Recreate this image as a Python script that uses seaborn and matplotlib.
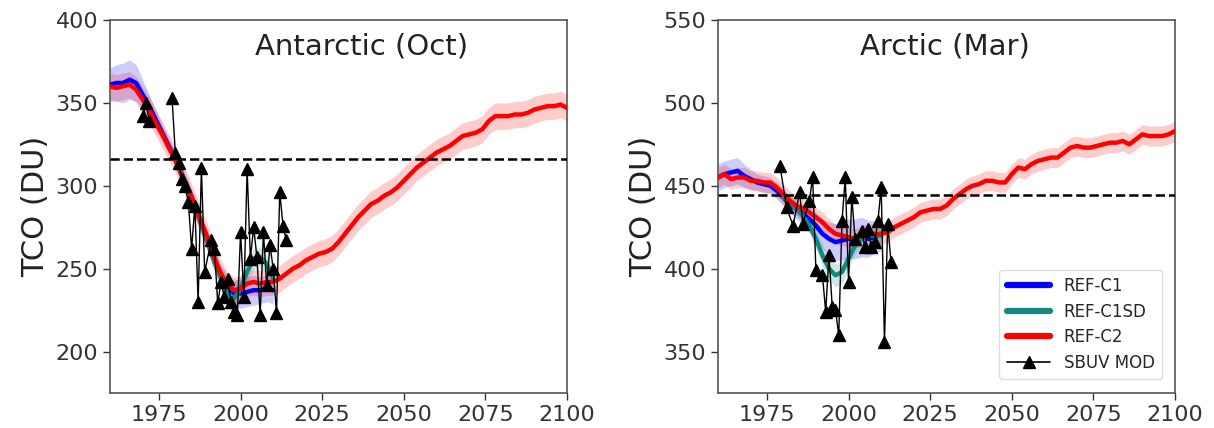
import numpy as np
import pandas as pd
import matplotlib
matplotlib.use("Agg")
import matplotlib.pyplot as plt
import seaborn as sns
from matplotlib.lines import Line2D

# ---------------- data ----------------
years_c2 = np.arange(1960, 2101, 2)
years_c1 = np.arange(1960, 2011, 2)
years_sd = np.arange(1980, 2011, 2)

# Antarctic (Oct)
ant_c2 = [360, 359, 360, 361, 358, 352, 346, 338, 331, 323,
          316, 306, 298, 288, 278, 268, 256, 247, 240, 237,
          238, 241, 242, 241, 242, 242, 244, 247, 250, 252,
          255, 257, 259, 260, 262, 266, 271, 276, 281, 285,
          289, 291, 294, 296, 299, 303, 307, 311, 314, 317,
          320, 322, 324, 327, 330, 331, 332, 334, 339, 342,
          342, 342, 343, 343, 344, 346, 347, 348, 348, 349,
          347]
ant_c1 = [361, 362, 362, 364, 362, 355, 348, 340, 332, 324,
          316, 307, 298, 288, 277, 267, 256, 246, 239, 235,
          235, 236, 237, 237, 238, 237]
ant_sd = [317, 307, 297, 287, 276, 265, 254, 244, 235, 232,
          238, 248, 256, 257, 253, 244]
ant_c2_spread = 8
ant_c1_spread = [10, 11, 12, 12, 11, 9, 7, 6, 5, 5,
                 5, 5, 5, 5, 5, 5, 6, 6, 7, 8,
                 9, 9, 9, 8, 8, 8]
ant_sd_spread = [4, 4, 4, 5, 5, 5, 6, 7, 9, 10, 8, 7, 6, 6, 6, 6]
ant_ref = 316

ant_obs_years = [1970, 1971, 1972, 1973, 1979, 1980, 1981, 1982, 1983, 1984,
                 1985, 1986, 1987, 1988, 1989, 1991, 1992, 1993, 1994, 1995,
                 1996, 1997, 1998, 1999, 2000, 2001, 2002, 2003, 2004, 2005,
                 2006, 2007, 2008, 2009, 2010, 2011, 2012, 2013, 2014]
ant_obs = [342, 350, 339, np.nan, 353, 320, 314, 304, 300, 290,
           262, 288, 230, 311, 248, 267, 262, 229, 242, 233,
           244, 230, 224, 222, 272, 233, 310, 256, 275, 257,
           222, 272, 240, 264, 250, 223, 296, 276, 267]

# Arctic (Mar)
arc_c2 = [455, 457, 454, 455, 455, 453, 453, 452, 452, 449,
          445, 441, 438, 436, 434, 431, 428, 424, 421, 420,
          419, 418, 420, 421, 421, 421, 422, 425, 427, 429,
          431, 434, 435, 436, 436, 438, 442, 445, 448, 450,
          451, 453, 453, 452, 452, 457, 461, 460, 463, 465,
          466, 467, 467, 470, 473, 474, 473, 473, 474, 475,
          476, 476, 477, 475, 478, 481, 480, 480, 480, 481,
          483]
arc_c1 = [455, 457, 458, 459, 456, 454, 452, 451, 450, 447,
          443, 439, 436, 433, 430, 426, 421, 418, 416, 417,
          418, 418, 419, 418, 419, 421]
arc_sd = [443, 440, 436, 432, 426, 418, 408, 400, 396, 398,
          406, 414, 418, 420, 420, 420]
arc_c2_spread = 6
arc_c1_spread = [8, 8, 8, 8, 7, 6, 5, 5, 5, 5,
                 5, 5, 6, 6, 7, 8, 9, 10, 11, 12,
                 12, 12, 12, 11, 10, 10]
arc_sd_spread = [4, 4, 4, 4, 5, 6, 7, 7, 7, 7, 6, 5, 5, 5, 5, 5]
arc_ref = 444.6

arc_obs_years = [1979, 1981, 1983, 1985, 1986, 1988, 1989, 1990, 1992, 1993,
                 1994, 1995, 1996, 1997, 1998, 1999, 2000, 2001, 2002, 2004,
                 2005, 2006, 2007, 2008, 2009, 2010, 2011, 2012, 2013]
arc_obs = [462, 437, 426, 446, 427, 441, 455, 399, 396, 374,
           408, 377, 375, 360, 429, 455, 392, 443, 418, 423,
           413, 424, 413, 416, 429, 449, 356, 427, 404]

titles = ["Antarctic (Oct)", "Arctic (Mar)"]
labels = ["REF-C1", "REF-C1SD", "REF-C2", "SBUV MOD"]
colors = {"REF-C1": "#0000ff", "REF-C1SD": "#138a80", "REF-C2": "#ff0000"}
xticks = [1975, 2000, 2025, 2050, 2075, 2100]

# ---------------- style ----------------
sns.set_theme(style="ticks")
plt.rcParams["font.family"] = ["DejaVu Sans"]

fig = plt.figure(figsize=(12.14, 4.28), dpi=100)
axes = [fig.add_axes([0.0906, 0.0818, 0.3765, 0.8715]),
        fig.add_axes([0.5914, 0.0818, 0.3765, 0.8715])]

panels = [
    dict(c2=ant_c2, c1=ant_c1, sd=ant_sd, c2s=ant_c2_spread, c1s=ant_c1_spread,
         sds=ant_sd_spread, ref=ant_ref, oy=ant_obs_years, ov=ant_obs,
         ylim=(175, 400), yticks=[200, 250, 300, 350, 400], tx=0.55),
    dict(c2=arc_c2, c1=arc_c1, sd=arc_sd, c2s=arc_c2_spread, c1s=arc_c1_spread,
         sds=arc_sd_spread, ref=arc_ref, oy=arc_obs_years, ov=arc_obs,
         ylim=(325, 550), yticks=[350, 400, 450, 500, 550], tx=0.497),
]

for ax, p, title in zip(axes, panels, titles):
    series = [
        ("REF-C1", years_c1, np.array(p["c1"], float), np.array(p["c1s"], float)),
        ("REF-C1SD", years_sd, np.array(p["sd"], float), np.array(p["sds"], float)),
        ("REF-C2", years_c2, np.array(p["c2"], float), float(p["c2s"])),
    ]
    for name, yrs, vals, spr in series:
        ax.fill_between(yrs, vals - spr, vals + spr, color=colors[name],
                        alpha=0.2, linewidth=0, zorder=2)
    for name, yrs, vals, spr in series:
        df = pd.DataFrame({"year": yrs, "tco": vals})
        sns.lineplot(data=df, x="year", y="tco", color=colors[name], lw=3.2,
                     ax=ax, zorder=3, errorbar=None)
    ax.plot(p["oy"], p["ov"], color="black", lw=1.0, marker="^",
            markersize=8, zorder=5)
    ax.axhline(p["ref"], color="black", lw=1.8, ls="--", zorder=4)

    ax.set_xlim(1960, 2100)
    ax.set_ylim(*p["ylim"])
    ax.set_xticks(xticks)
    ax.set_yticks(p["yticks"])
    ax.set_xlabel("")
    ax.set_ylabel("TCO (DU)", fontsize=22, color="#222222")
    ax.tick_params(labelsize=16, colors="#333333", length=5, width=1)
    for sp in ax.spines.values():
        sp.set_visible(True)
        sp.set_color("#555555")
        sp.set_linewidth(1.2)
    ax.text(p["tx"], 0.928, title, transform=ax.transAxes, ha="center",
            va="center", fontsize=21, color="#222222")

handles = [Line2D([], [], color=colors["REF-C1"], lw=4.5),
           Line2D([], [], color=colors["REF-C1SD"], lw=4.5),
           Line2D([], [], color=colors["REF-C2"], lw=4.5),
           Line2D([], [], color="black", lw=1.2, marker="^", markersize=8)]
axes[1].legend(handles, labels, loc="lower right", fontsize=12,
               frameon=True, framealpha=1, edgecolor="#dddddd",
               handlelength=2.6, borderpad=0.45, labelspacing=0.45,
               bbox_to_anchor=(0.99, 0.015))

fig.savefig("out.png", dpi=100)
